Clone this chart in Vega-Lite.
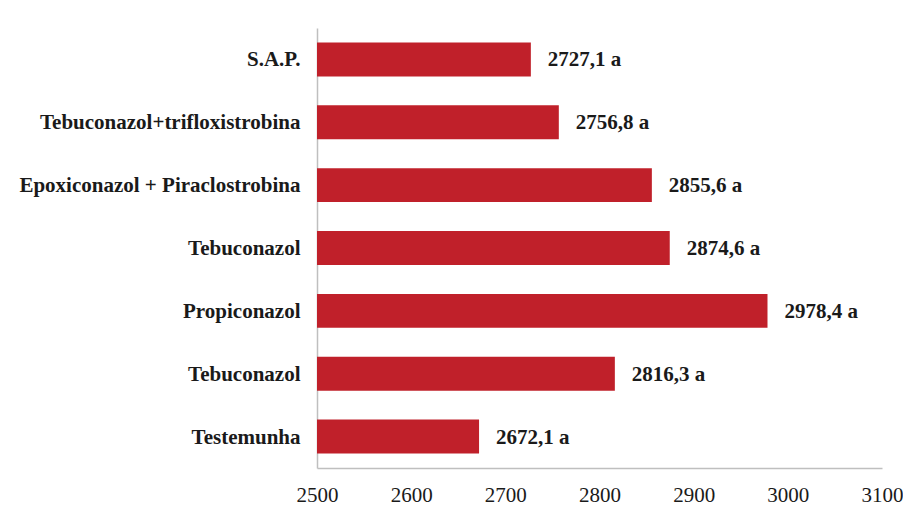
{
  "$schema": "https://vega.github.io/schema/vega-lite/v6.json",
  "autosize": "none",
  "width": 565,
  "height": 440,
  "padding": {"left": 317, "top": 28, "right": 21, "bottom": 52},
  "background": "white",
  "config": {"view": {"stroke": null}},
  "data": {
    "values": [
      {"trat": "S.A.P.", "valor": 2727.1, "rotulo": "2727,1 a"},
      {"trat": "Tebuconazol+trifloxistrobina", "valor": 2756.8, "rotulo": "2756,8 a"},
      {"trat": "Epoxiconazol + Piraclostrobina", "valor": 2855.6, "rotulo": "2855,6 a"},
      {"trat": "Tebuconazol", "valor": 2874.6, "rotulo": "2874,6 a"},
      {"trat": "Propiconazol", "valor": 2978.4, "rotulo": "2978,4 a"},
      {"trat": "Tebuconazol\u200b", "valor": 2816.3, "rotulo": "2816,3 a"},
      {"trat": "Testemunha", "valor": 2672.1, "rotulo": "2672,1 a"}
    ]
  },
  "encoding": {
    "y": {
      "field": "trat",
      "type": "nominal",
      "sort": null,
      "scale": {"paddingInner": 0.46, "paddingOuter": 0.23},
      "axis": {
        "title": null,
        "ticks": false,
        "domainColor": "#bfbfbf",
        "domainWidth": 1.5,
        "labelFont": "Liberation Serif",
        "labelFontWeight": "bold",
        "labelFontSize": 21,
        "labelColor": "#1a1a1a",
        "labelPadding": 17,
        "labelLimit": 400,
        "labelOffset": 1
      }
    }
  },
  "layer": [
    {
      "mark": {"type": "bar", "color": "#c0202a", "clip": true},
      "encoding": {
        "x": {
          "field": "valor",
          "type": "quantitative",
          "scale": {"domain": [2500, 3100], "zero": false, "nice": false},
          "axis": {
            "title": null,
            "values": [2500, 2600, 2700, 2800, 2900, 3000, 3100],
            "format": "d",
            "grid": false,
            "ticks": false,
            "domainColor": "#bfbfbf",
            "domainWidth": 1.5,
            "labelFont": "Liberation Serif",
            "labelFontSize": 21,
            "labelColor": "#1a1a1a",
            "labelPadding": 16,
            "labelFlush": false
          }
        }
      }
    },
    {
      "mark": {"type": "text", "align": "left", "dx": 17, "dy": 1, "font": "Liberation Serif", "fontWeight": "bold", "fontSize": 21, "color": "#1a1a1a"},
      "encoding": {
        "x": {"field": "valor", "type": "quantitative"},
        "text": {"field": "rotulo"}
      }
    }
  ]
}
